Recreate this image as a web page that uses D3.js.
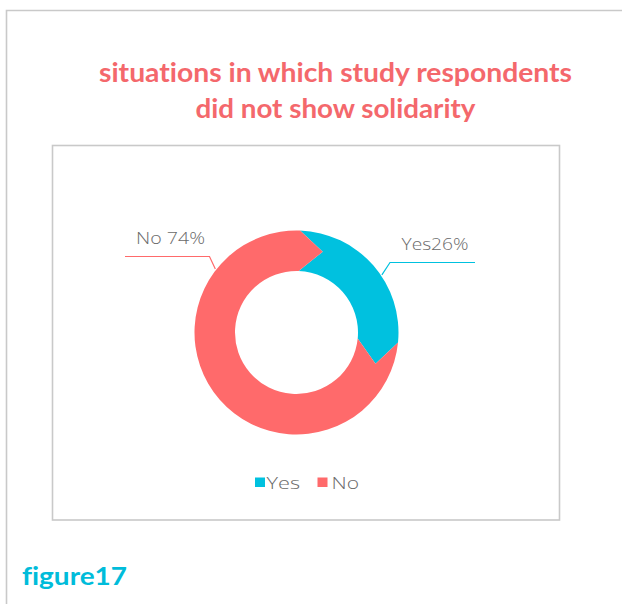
<!DOCTYPE html>
<html>
<head>
<meta charset="utf-8">
<script src="https://cdn.jsdelivr.net/npm/d3@7"></script>
<style>
  html, body { margin: 0; padding: 0; background: #ffffff; }
  svg { display: block; }
  text { font-variant-ligatures: none; font-feature-settings: "liga" 0, "clig" 0; }
</style>
</head>
<body>
<svg id="chart" width="622" height="604"></svg>
<script>
// Survey answers: did respondents show solidarity?
const categories = ["Yes", "No"];
const values = [26, 74];
const colors = ["#00C1DF", "#FF6A6B"];
const titleLines = ["situations in which study respondents", "did not show solidarity"];
const labelTexts = ["Yes26%", "No 74%"];
const figureCaption = "figure17";

const svg = d3.select("#chart");
const W = 622, H = 604;

// outer page frame (left and top rules)
svg.append("path")
  .attr("d", `M6.5,${H} V10.5 H${W}`)
  .attr("fill", "none")
  .attr("stroke", "#c9c9c9")
  .attr("stroke-width", 1.6);

// title
const titleFont = "'Lato', 'Open Sans', sans-serif";
const titleWidths = [473, 280];
const titleBase = [81.5, 118];
titleLines.forEach((t, i) => {
  svg.append("text")
    .attr("x", 335.5)
    .attr("y", titleBase[i])
    .attr("text-anchor", "middle")
    .attr("font-family", titleFont)
    .attr("font-weight", 700)
    .attr("font-size", 27)
    .attr("fill", "#F4686C")
    .attr("textLength", titleWidths[i])
    .attr("lengthAdjust", "spacingAndGlyphs")
    .text(t);
});

// chart area box
svg.append("rect")
  .attr("x", 52.5).attr("y", 145.5)
  .attr("width", 507).attr("height", 374.5)
  .attr("fill", "none")
  .attr("stroke", "#c9c9c9")
  .attr("stroke-width", 1.6);

// doughnut with chevron-shaped slice boundaries
const cx = 296.5, cy = 332.5;
const rOuter = 102, rInner = 61.5, rTip = 85;
const rotation = 2 * Math.PI / 180;
const tipAngle = 16 * Math.PI / 180;

const pie = d3.pie().sort(null).value(d => d.value)
  .startAngle(rotation).endAngle(2 * Math.PI + rotation);
const arcsData = pie(categories.map((c, i) => ({ name: c, value: values[i], color: colors[i] })));

function pt(r, a) { return [Math.sin(a) * r, -Math.cos(a) * r]; }

function chevronSlice(d) {
  const a0 = d.startAngle, a1 = d.endAngle;
  const p = d3.path();
  const o0 = pt(rOuter, a0);
  p.moveTo(o0[0], o0[1]);
  p.arc(0, 0, rOuter, a0 - Math.PI / 2, a1 - Math.PI / 2, false);
  const tEnd = pt(rTip, a1 + tipAngle);
  p.lineTo(tEnd[0], tEnd[1]);
  const i1 = pt(rInner, a1);
  p.lineTo(i1[0], i1[1]);
  p.arc(0, 0, rInner, a1 - Math.PI / 2, a0 - Math.PI / 2, true);
  const tStart = pt(rTip, a0 + tipAngle);
  p.lineTo(tStart[0], tStart[1]);
  p.closePath();
  return p.toString();
}

const g = svg.append("g").attr("transform", `translate(${cx},${cy})`);
g.selectAll("path.slice")
  .data(arcsData)
  .join("path")
  .attr("class", "slice")
  .attr("d", chevronSlice)
  .attr("fill", d => d.data.color);

// data labels with leader lines
const labelFont = "'Open Sans', 'Lato', sans-serif";
const labelLayout = [
  { anchorAngle: 56, elbow: [390, 262.5], end: [475, 262.5], x: 401.5, y: 250, w: 67 },
  { anchorAngle: 308, elbow: [209.5, 256.5], end: [125, 256.5], x: 136, y: 244, w: 69 }
];
arcsData.forEach((d, i) => {
  const L = labelLayout[i];
  const a = L.anchorAngle * Math.PI / 180;
  const p0 = pt(rOuter + 1, a);
  svg.append("path")
    .attr("d", `M${cx + p0[0]},${cy + p0[1]} L${L.elbow[0]},${L.elbow[1]} L${L.end[0]},${L.end[1]}`)
    .attr("fill", "none")
    .attr("stroke", d.data.color)
    .attr("stroke-width", 1.2);
  svg.append("text")
    .attr("x", L.x).attr("y", L.y)
    .attr("font-family", labelFont)
    .attr("font-weight", 300)
    .attr("font-size", 17)
    .attr("fill", "#6a6a6a")
    .attr("textLength", L.w)
    .attr("lengthAdjust", "spacingAndGlyphs")
    .text(labelTexts[i]);
});

// legend
const legendItems = [
  { sx: 255, tx: 266.5, w: 33.5 },
  { sx: 317.5, tx: 331.5, w: 27.5 }
];
categories.forEach((c, i) => {
  const L = legendItems[i];
  svg.append("rect")
    .attr("x", L.sx).attr("y", 477.5)
    .attr("width", 10).attr("height", 9.5)
    .attr("fill", colors[i]);
  svg.append("text")
    .attr("x", L.tx).attr("y", 488.5)
    .attr("font-family", labelFont)
    .attr("font-weight", 300)
    .attr("font-size", 16)
    .attr("fill", "#6a6a6a")
    .attr("textLength", L.w)
    .attr("lengthAdjust", "spacingAndGlyphs")
    .text(c);
});

// figure caption
svg.append("text")
  .attr("x", 22).attr("y", 585)
  .attr("font-family", titleFont)
  .attr("font-weight", 700)
  .attr("font-size", 25)
  .attr("fill", "#00BCDA")
  .attr("textLength", 105)
  .attr("lengthAdjust", "spacingAndGlyphs")
  .text(figureCaption);
</script>
</body>
</html>
